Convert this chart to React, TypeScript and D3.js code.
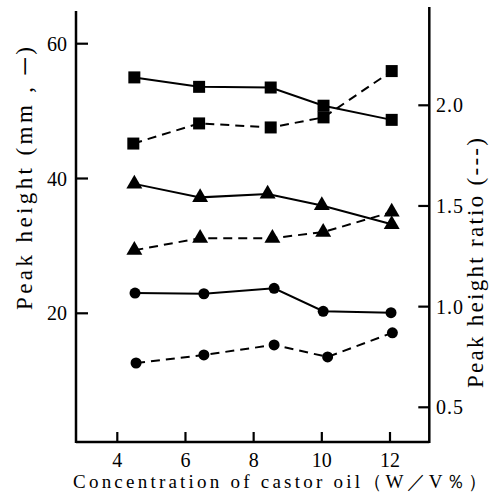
import React from "react";
import * as d3 from "d3";

const xTicks = [4, 6, 8, 10, 12];
const leftTicks = [20, 40, 60];
const rightTicks = [0.5, 1.0, 1.5, 2.0];

// Peak height (mm) – solid lines, left axis
const sqSolidX = [4.5, 6.4, 8.5, 10.05, 12.05];
const sqSolid = [55.0, 53.6, 53.5, 50.8, 48.7];
const triSolidX = [4.5, 6.43, 8.41, 10.0, 12.05];
const triSolid = [39.2, 37.2, 37.7, 36.0, 33.2];
const circSolidX = [4.52, 6.54, 8.6, 10.04, 12.03];
const circSolid = [23.0, 22.9, 23.7, 20.3, 20.1];

// Peak height ratio – dashed lines, right axis
const sqDashX = [4.47, 6.4, 8.5, 10.05, 12.05];
const sqDash = [1.81, 1.91, 1.89, 1.94, 2.17];
const triDashX = [4.5, 6.43, 8.55, 10.04, 12.05];
const triDash = [1.28, 1.34, 1.34, 1.37, 1.47];
const circDashX = [4.55, 6.54, 8.6, 10.17, 12.07];
const circDash = [0.72, 0.76, 0.81, 0.75, 0.87];

const W = 495;
const H = 497;
const axL = 76;
const axR = 429.3;
const axB = 442;

const x = d3.scaleLinear().domain([4, 12]).range([117.3, 390]);
const yL = d3.scaleLinear().domain([20, 60]).range([313.3, 43.7]);
const yR = d3.scaleLinear().domain([0.5, 2.0]).range([407.3, 105.3]);

const FONT = "Times";

type Shape = "square" | "triangle" | "circle";

function Marker({ cx, cy, shape }: { cx: number; cy: number; shape: Shape }) {
  if (shape === "square") return <rect x={cx - 6} y={cy - 6} width={12} height={12} fill="#000" />;
  if (shape === "circle") return <circle cx={cx} cy={cy} r={5.5} fill="#000" />;
  const p = d3.symbol(d3.symbolTriangle, 110)();
  return <path d={p || ""} transform={`translate(${cx},${cy})`} fill="#000" />;
}

function Series({ xs, ys, scale, shape, dashed }: { xs: number[]; ys: number[]; scale: d3.ScaleLinear<number, number>; shape: Shape; dashed: boolean }) {
  const pts: [number, number][] = xs.map((v, i) => [x(v), scale(ys[i])]);
  const line = d3.line()(pts) || "";
  return (
    <g>
      <path d={line} fill="none" stroke="#000" strokeWidth={2} strokeDasharray={dashed ? "9,6" : undefined} />
      {pts.map((p, i) => (
        <Marker key={i} cx={p[0]} cy={p[1]} shape={shape} />
      ))}
    </g>
  );
}

export default function App() {
  return (
    <svg width={W} height={H} style={{ position: "absolute", left: 0, top: 0, background: "#fff" }}>
      <rect x={0} y={0} width={W} height={H} fill="#fff" />
      {/* axes */}
      <line x1={axL} y1={11} x2={axL} y2={axB + 1} stroke="#000" strokeWidth={2.5} />
      <line x1={axR} y1={7} x2={axR} y2={axB + 1} stroke="#000" strokeWidth={2.5} />
      <line x1={axL} y1={axB} x2={axR} y2={axB} stroke="#000" strokeWidth={2.5} />
      {/* x ticks */}
      {xTicks.map((t) => (
        <g key={t}>
          <line x1={x(t)} x2={x(t)} y1={axB} y2={axB - 10} stroke="#000" strokeWidth={2.2} />
          <text x={x(t)} y={467} fontSize={20} textAnchor="middle" fontFamily={FONT} fill="#000">{String(t)}</text>
        </g>
      ))}
      {/* left ticks */}
      {leftTicks.map((t) => (
        <g key={t}>
          <line x1={axL} x2={axL + 12} y1={yL(t)} y2={yL(t)} stroke="#000" strokeWidth={2.2} />
          <text x={67} y={yL(t) + 7} fontSize={20} textAnchor="end" fontFamily={FONT} fill="#000">{String(t)}</text>
        </g>
      ))}
      {/* right ticks */}
      {rightTicks.map((t) => (
        <g key={t}>
          <line x1={axR - 11} x2={axR} y1={yR(t)} y2={yR(t)} stroke="#000" strokeWidth={2.2} />
          <text x={436} y={yR(t) + 7} fontSize={20} textAnchor="start" fontFamily={FONT} fill="#000" letterSpacing={1}>{t.toFixed(1)}</text>
        </g>
      ))}
      {/* series */}
      <Series xs={sqSolidX} ys={sqSolid} scale={yL} shape="square" dashed={false} />
      <Series xs={sqDashX} ys={sqDash} scale={yR} shape="square" dashed={true} />
      <Series xs={triSolidX} ys={triSolid} scale={yL} shape="triangle" dashed={false} />
      <Series xs={triDashX} ys={triDash} scale={yR} shape="triangle" dashed={true} />
      <Series xs={circSolidX} ys={circSolid} scale={yL} shape="circle" dashed={false} />
      <Series xs={circDashX} ys={circDash} scale={yR} shape="circle" dashed={true} />
      {/* axis titles */}
      <text x={280} y={488} fontSize={19} textAnchor="middle" fontFamily={FONT} fill="#000" textLength={414} lengthAdjust="spacing">
        {"Concentration of castor oil（W／V％）"}
      </text>
      <text transform="translate(32,178.5) rotate(-90)" fontSize={23} textAnchor="middle" fontFamily={FONT} fill="#000" textLength={263} lengthAdjust="spacing">
        {"Peak height (mm , ─)"}
      </text>
      <text transform="translate(483,263) rotate(-90)" fontSize={23} textAnchor="middle" fontFamily={FONT} fill="#000" textLength={250} lengthAdjust="spacing">
        {"Peak height ratio (---)"}
      </text>
    </svg>
  );
}
